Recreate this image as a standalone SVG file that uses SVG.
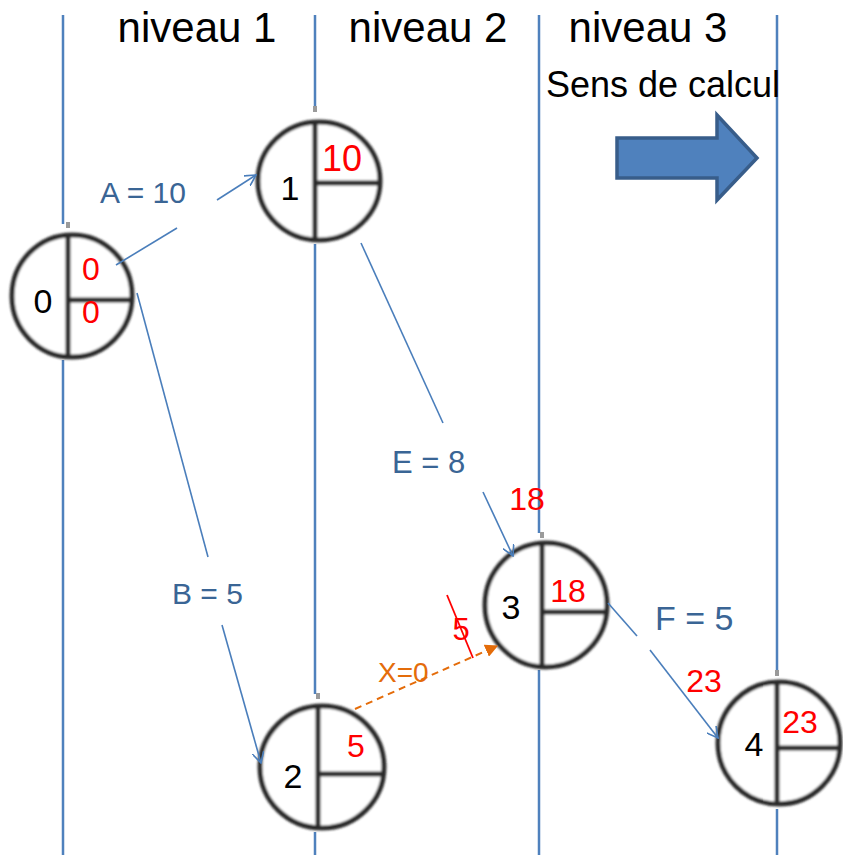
<svg xmlns="http://www.w3.org/2000/svg" width="843" height="855" viewBox="0 0 843 855">
<style>
.axis{stroke:#4F81BD;stroke-width:2.5;fill:none}
.ring{fill:#fff;stroke:#2b2b2b;stroke-width:5}
.div{stroke:#2b2b2b;stroke-width:5;fill:none}
.bg{fill:#fff}
.stub{fill:#9a9a9a}
.edge{stroke:#4A7EBB;stroke-width:1.6;fill:none}
.lbl{font-family:"Liberation Sans",Arial,sans-serif;fill:#3A6595}
.red{font-family:"Liberation Sans",Arial,sans-serif;fill:#FF0000;font-size:32px}
.blk{font-family:"Liberation Sans",Arial,sans-serif;fill:#000;font-size:34px}
.hdr{font-family:"Liberation Sans",Arial,sans-serif;fill:#000;font-size:42px}
</style>
<defs>
<marker id="open" viewBox="0 0 12 12" refX="11" refY="6" markerWidth="12" markerHeight="12" markerUnits="userSpaceOnUse" orient="auto">
<path d="M0,0 L11,6 L0,12" fill="none" stroke="#4A7EBB" stroke-width="1.6"/>
</marker>
<marker id="tri" viewBox="0 0 10 10" refX="9" refY="5" markerWidth="13" markerHeight="13" markerUnits="userSpaceOnUse" orient="auto">
<path d="M0,0 L10,5 L0,10 Z" fill="#E46C0A"/>
</marker>
<filter id="soft" x="-10%" y="-10%" width="120%" height="120%"><feGaussianBlur stdDeviation="0.8"/></filter>
</defs>
<rect width="843" height="855" fill="#fff"/>
<g id="axes">
<line class="axis" x1="63" y1="15" x2="63" y2="855"/>
<line class="axis" x1="315" y1="15" x2="315" y2="855"/>
<line class="axis" x1="539" y1="15" x2="539" y2="855"/>
<line class="axis" x1="777" y1="15" x2="777" y2="855"/>
</g>
<g id="headers">
<text class="hdr" x="197" y="42" text-anchor="middle">niveau 1</text>
<text class="hdr" x="428" y="42" text-anchor="middle">niveau 2</text>
<text class="hdr" x="648" y="42" text-anchor="middle">niveau 3</text>
<text x="663" y="97" text-anchor="middle" style="font-family:'Liberation Sans',Arial,sans-serif;font-size:36px;fill:#000">Sens de calcul</text>
</g>
<g id="direction-arrow">
<path d="M617,138 L717,138 L717,115 L757,158 L717,200 L717,178 L617,178 Z" fill="#4F81BD" stroke="#385D8A" stroke-width="3.5" stroke-linejoin="miter"/>
</g>
<g id="node0">
<rect class="bg" x="8" y="224" width="130" height="136"/>
<rect class="stub" x="66" y="222" width="4" height="6"/>
<g filter="url(#soft)">
<ellipse class="ring" cx="72" cy="296" rx="60" ry="61"/>
<line class="div" x1="68" y1="235" x2="68" y2="357"/>
<line class="div" x1="68" y1="300" x2="132" y2="300"/>
</g>
<text class="blk" x="43" y="313" text-anchor="middle">0</text>
<text class="red" x="91" y="280" text-anchor="middle">0</text>
<text class="red" x="91" y="323" text-anchor="middle">0</text>
</g>
<g id="node1">
<rect class="bg" x="254" y="108" width="130" height="136"/>
<rect class="stub" x="313" y="106" width="4" height="6"/>
<g filter="url(#soft)">
<ellipse class="ring" cx="319" cy="181" rx="61" ry="59"/>
<line class="div" x1="315" y1="122" x2="315" y2="240"/>
<line class="div" x1="315" y1="183" x2="380" y2="183"/>
</g>
<text class="blk" x="290" y="200" text-anchor="middle">1</text>
<text class="red" x="342" y="171" text-anchor="middle" style="font-size:36px">10</text>
</g>
<g id="node2">
<rect class="bg" x="256" y="694" width="133" height="138"/>
<rect class="stub" x="316" y="693" width="4" height="6"/>
<g filter="url(#soft)">
<ellipse class="ring" cx="322" cy="767" rx="62" ry="61"/>
<line class="div" x1="318" y1="706" x2="318" y2="828"/>
<line class="div" x1="318" y1="774" x2="384" y2="774"/>
</g>
<text class="blk" x="293" y="788" text-anchor="middle">2</text>
<text class="red" x="356" y="757" text-anchor="middle">5</text>
</g>
<g id="node3">
<rect class="bg" x="481" y="533" width="130" height="137"/>
<rect class="stub" x="540" y="532" width="4" height="6"/>
<g filter="url(#soft)">
<ellipse class="ring" cx="546" cy="605" rx="61" ry="62"/>
<line class="div" x1="542" y1="543" x2="542" y2="667"/>
<line class="div" x1="542" y1="612" x2="606" y2="612"/>
</g>
<text class="blk" x="511" y="619" text-anchor="middle">3</text>
<text class="red" x="568" y="602" text-anchor="middle">18</text>
</g>
<g id="node4">
<rect class="bg" x="714" y="672" width="129" height="137"/>
<rect class="stub" x="775" y="670" width="4" height="6"/>
<g filter="url(#soft)">
<ellipse class="ring" cx="779" cy="743" rx="61" ry="61"/>
<line class="div" x1="777" y1="682" x2="777" y2="804"/>
<line class="div" x1="777" y1="748" x2="839" y2="748"/>
</g>
<text class="blk" x="754" y="756" text-anchor="middle">4</text>
<text class="red" x="800" y="733" text-anchor="middle">23</text>
</g>
<g id="connectors">
<line class="edge" x1="116" y1="265" x2="177" y2="228"/>
<line class="edge" x1="217" y1="200" x2="256" y2="175" marker-end="url(#open)"/>
<line class="edge" x1="137" y1="293" x2="208" y2="557"/>
<line class="edge" x1="222" y1="625" x2="261" y2="763" marker-end="url(#open)"/>
<line class="edge" x1="361" y1="243" x2="443" y2="423"/>
<line class="edge" x1="483" y1="492" x2="513" y2="556" marker-end="url(#open)"/>
<line class="edge" x1="608" y1="603" x2="637" y2="636"/>
<line class="edge" x1="650" y1="650" x2="718" y2="738" marker-end="url(#open)"/>
<line x1="355" y1="709" x2="497" y2="646" stroke="#E46C0A" stroke-width="2" stroke-dasharray="7,5" marker-end="url(#tri)"/>
</g>
<g id="labels">
<text class="lbl" x="100" y="203" style="font-size:30px">A = 10</text>
<text class="lbl" x="172" y="604" style="font-size:30px">B = 5</text>
<text class="lbl" x="392" y="473" style="font-size:31px">E = 8</text>
<text class="lbl" x="655" y="630" style="font-size:34px">F = 5</text>
<text x="378" y="682" style="font-family:'Liberation Sans',Arial,sans-serif;font-size:28px;fill:#E46C0A">X=0</text>
<text class="red" x="527" y="510" text-anchor="middle">18</text>
<text class="red" x="704" y="692" text-anchor="middle">23</text>
<text class="red" x="461" y="640" text-anchor="middle" style="font-size:31px">5</text>
<line x1="447" y1="595" x2="473" y2="658" stroke="#FF0000" stroke-width="1.8"/>
</g>
</svg>
